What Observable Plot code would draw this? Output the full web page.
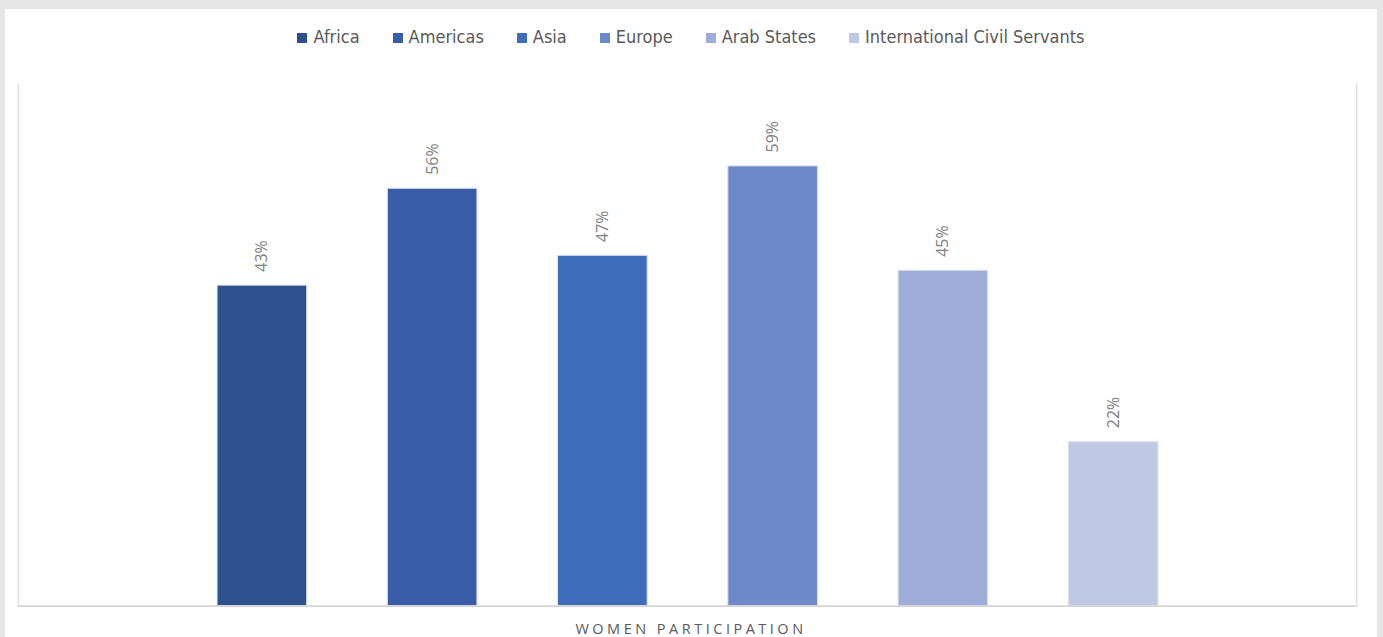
<!DOCTYPE html>
<html>
<head>
<meta charset="utf-8">
<script src="https://cdn.jsdelivr.net/npm/d3@7"></script>
<script src="https://cdn.jsdelivr.net/npm/@observablehq/plot@0.6"></script>
<style>
  html, body { margin: 0; padding: 0; width: 1383px; height: 637px; overflow: hidden; background: #e6e6e6; }
  #panel { position: absolute; left: 5px; top: 9px; width: 1372px; height: 628px; background: #fff; }
  #legend { position: absolute; left: 0; top: 17px; width: 1372px; display: flex; justify-content: center; gap: 33px;
            font-family: "Liberation Sans Narrow", "DejaVu Sans Condensed", sans-serif; font-size: 18px; color: #595959; }
  #legend .item { display: flex; align-items: center; }
  #legend .sw { width: 10px; height: 10px; margin-right: 6px; margin-top: 2px; }
  #chart { position: absolute; left: -5px; top: 53px; }
  #caption { position: absolute; left: 0; top: 612px; width: 1372px; text-align: center; line-height: 15px;
             font-family: "Open Sans", sans-serif; font-size: 14.5px; letter-spacing: 3.5px; color: #595959; }
</style>
</head>
<body>
<div id="panel">
  <div id="legend"></div>
  <div id="chart"></div>
  <div id="caption"></div>
</div>
<script>
const categories = ["Africa", "Americas", "Asia", "Europe", "Arab States", "International Civil Servants"];
const values = [43, 56, 47, 59, 45, 22];
const colors = ["#2E508C", "#385DA6", "#3E6CBB", "#6E89CA", "#9FAED8", "#BFC9E4"];
const axisLabel = "WOMEN PARTICIPATION";

const data = categories.map((c, i) => ({category: c, value: values[i]}));

const legend = document.getElementById("legend");
categories.forEach((c, i) => {
  const item = document.createElement("div");
  item.className = "item";
  const sw = document.createElement("span");
  sw.className = "sw";
  sw.style.background = colors[i];
  const t = document.createElement("span");
  t.textContent = c;
  item.appendChild(sw);
  item.appendChild(t);
  legend.appendChild(item);
});

document.getElementById("caption").textContent = axisLabel;

const chart = Plot.plot({
  width: 1383,
  height: 550,
  marginLeft: 18,
  marginRight: 21,
  marginTop: 22,
  marginBottom: 4,
  style: {background: "transparent", fontFamily: "Open Sans, sans-serif"},
  x: {domain: categories, paddingInner: 0.474, paddingOuter: 0.237, insetLeft: 159, insetRight: 159, axis: null},
  y: {domain: [0, 70], axis: null},
  color: {domain: categories, range: colors},
  marks: [
    Plot.frame({anchor: "left", stroke: "#dedede", strokeWidth: 1.5}),
    Plot.frame({anchor: "right", stroke: "#dedede", strokeWidth: 1.5}),
    Plot.barY(data, {x: "category", y: "value", fill: "category", stroke: "#dbe3f3", strokeWidth: 1}),
    Plot.ruleY([0], {stroke: "#d4d4d4", strokeWidth: 2}),
    Plot.text(data, {x: "category", y: "value", text: d => d.value + "%", rotate: -90, textAnchor: "start",
      lineAnchor: "middle", dy: -14, fill: "#808080", fontSize: 16})
  ]
});
document.getElementById("chart").appendChild(chart);
</script>
</body>
</html>
